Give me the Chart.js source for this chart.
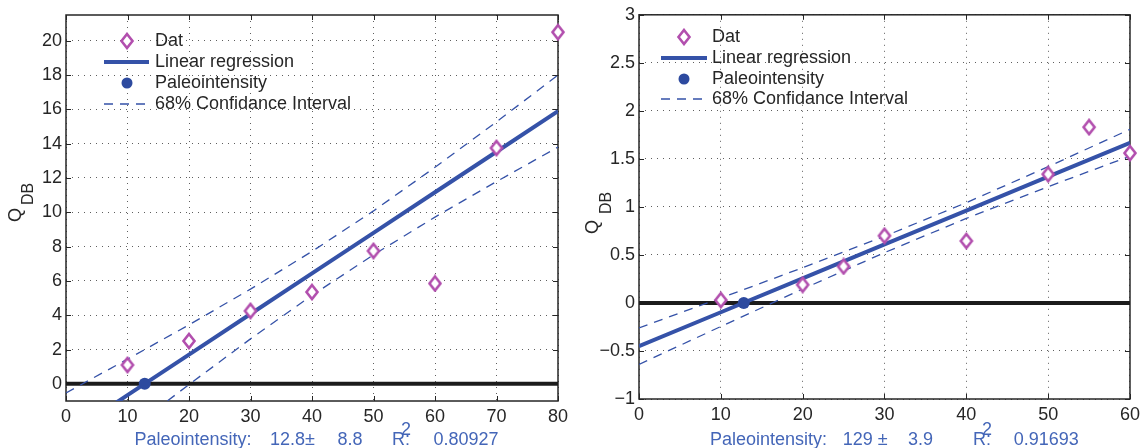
<!DOCTYPE html>
<html>
<head>
<meta charset="utf-8">
<script src="https://cdn.jsdelivr.net/npm/chart.js@4"></script>
<style>
  html, body { margin: 0; padding: 0; background: #fff; }
  #wrap { position: relative; width: 1145px; height: 448px; }
  canvas { position: absolute; top: 0; }
</style>
</head>
<body>
<div id="wrap">
  <canvas id="leftChart" width="575" height="448" style="left:0"></canvas>
  <canvas id="rightChart" width="570" height="448" style="left:575px"></canvas>
</div>
<script>
// ---- left panel data ----
const leftX = [10, 20, 30, 40, 50, 60, 70, 80];
const leftQ = [1.1, 2.5, 4.25, 5.35, 7.75, 5.85, 13.75, 20.5];
const leftFitX = [0, 10, 20, 30, 40, 50, 60, 70, 80];
const leftFit = [-3.03, -0.66, 1.70, 4.07, 6.44, 8.80, 11.17, 13.53, 15.90];
const leftUpper = [-0.53, 1.44, 3.44, 5.52, 7.72, 10.08, 12.62, 15.27, 18.0];
const leftLower = [-5.53, -2.76, -0.04, 2.62, 5.16, 7.52, 9.72, 11.79, 13.8];
const leftPaleo = [12.8, 0];
const leftXTicks = [0, 10, 20, 30, 40, 50, 60, 70, 80];
const leftYTicks = [0, 2, 4, 6, 8, 10, 12, 14, 16, 18, 20];

// ---- right panel data ----
const rightX = [10, 20, 25, 30, 40, 50, 55, 60];
const rightQ = [0.03, 0.19, 0.38, 0.70, 0.645, 1.34, 1.83, 1.56];
const rightFitX = [0, 10, 20, 30, 40, 50, 60];
const rightFit = [-0.45, -0.097, 0.256, 0.609, 0.962, 1.315, 1.668];
const rightUpper = [-0.26, 0.051, 0.367, 0.694, 1.044, 1.419, 1.808];
const rightLower = [-0.64, -0.245, 0.145, 0.524, 0.880, 1.211, 1.528];
const rightPaleo = [12.8, 0];
const rightXTicks = [0, 10, 20, 30, 40, 50, 60];
const rightYTicks = [-1, -0.5, 0, 0.5, 1, 1.5, 2, 2.5, 3];

const legendLabels = ["Dat", "Linear regression", "Paleointensity", "68% Confidance Interval"];

const FONT = "'Liberation Sans', Arial, Helvetica, sans-serif";
const TXT = "#262626";
const MAGENTA = "#b24fae";
const BLUE = "#3552a8";
const DOT = "#2d4a9f";
const NOTE = "#4466b8";

function pts(xs, ys) {
  return xs.map((x, i) => ({ x: x, y: ys[i] }));
}

// diamond marker (a bit taller than wide, like the matlab one)
const diamond = document.createElement("canvas");
diamond.width = 16; diamond.height = 18;
(function () {
  const c = diamond.getContext("2d");
  c.strokeStyle = MAGENTA;
  c.fillStyle = "#fff";
  c.lineWidth = 2.6;
  c.beginPath();
  c.moveTo(8, 2); c.lineTo(13.5, 9); c.lineTo(8, 16); c.lineTo(2.5, 9);
  c.closePath(); c.fill(); c.stroke();
})();

// axes box, inward ticks, legend, Q_DB label and the note under the x axis
function decoPlugin(cfg) {
  return {
    id: "deco_" + cfg.name,
    beforeDatasetsDraw(chart) {
      const ctx = chart.ctx;
      const a = chart.chartArea;
      const sx = chart.scales.x, sy = chart.scales.y;
      ctx.save();
      ctx.strokeStyle = TXT;
      ctx.lineWidth = 1;
      ctx.beginPath();
      sx.ticks.forEach(t => {
        const px = Math.round(sx.getPixelForValue(t.value)) + 0.5;
        ctx.moveTo(px, a.bottom); ctx.lineTo(px, a.bottom - 5);
        ctx.moveTo(px, a.top); ctx.lineTo(px, a.top + 5);
      });
      sy.ticks.forEach(t => {
        const py = Math.round(sy.getPixelForValue(t.value)) + 0.5;
        ctx.moveTo(a.left, py); ctx.lineTo(a.left + 5, py);
        ctx.moveTo(a.right, py); ctx.lineTo(a.right - 5, py);
      });
      ctx.stroke();
      ctx.lineWidth = 1.5;
      ctx.strokeRect(a.left, a.top, a.right - a.left, a.bottom - a.top);
      ctx.restore();
    },
    afterDraw(chart) {
      const ctx = chart.ctx;
      const L = cfg.legend;
      ctx.save();
      ctx.font = "18px " + FONT;
      ctx.fillStyle = TXT;
      ctx.textBaseline = "middle";
      legendLabels.forEach((lab, i) => ctx.fillText(lab, L.textX, L.rows[i]));

      const mx = L.markerX;
      ctx.drawImage(diamond, mx - 8, L.rows[0] - 9);
      // regression line
      ctx.strokeStyle = BLUE;
      ctx.lineWidth = 4;
      ctx.beginPath(); ctx.moveTo(L.x1, L.rows[1]); ctx.lineTo(L.x2, L.rows[1]); ctx.stroke();
      // paleointensity dot
      ctx.fillStyle = DOT;
      ctx.beginPath(); ctx.arc(mx, L.rows[2], 5.5, 0, Math.PI * 2); ctx.fill();
      // dashed
      ctx.strokeStyle = BLUE;
      ctx.lineWidth = 1.3;
      ctx.setLineDash([9, 7]);
      ctx.beginPath(); ctx.moveTo(L.x1, L.rows[3]); ctx.lineTo(L.x2, L.rows[3]); ctx.stroke();
      ctx.setLineDash([]);

      // y title Q_DB
      ctx.fillStyle = TXT;
      ctx.textBaseline = "alphabetic";
      ctx.translate(cfg.qx, cfg.qBottom);
      ctx.rotate(-Math.PI / 2);
      ctx.font = "18px " + FONT;
      ctx.fillText("Q", 0, 6.4);
      const wq = ctx.measureText("Q").width;
      ctx.font = "16px " + FONT;
      ctx.fillText("DB", wq + cfg.qGap, 6.4 + cfg.qSub);
      ctx.setTransform(1, 0, 0, 1, 0, 0);

      // note under the axis
      ctx.fillStyle = NOTE;
      cfg.note.forEach(seg => {
        ctx.font = "18px " + FONT;
        ctx.fillText(seg.t, seg.x, seg.sup ? 435 : 445);
      });
      ctx.restore();
    }
  };
}

function makeChart(id, cfg) {
  const minus = v => String(v).replace("-", "\u2212");
  new Chart(document.getElementById(id).getContext("2d"), {
    type: "scatter",
    data: {
      datasets: [
        { data: pts(cfg.x, cfg.q), pointStyle: diamond, pointRadius: 8,
          showLine: false, clip: false, order: 0 },
        { data: [{ x: cfg.paleo[0], y: cfg.paleo[1] }], pointRadius: 6, pointBorderWidth: 0,
          pointBackgroundColor: DOT, showLine: false, order: 1 },
        { data: pts(cfg.fitX, cfg.fit), showLine: true, borderColor: BLUE, borderWidth: 4,
          pointRadius: 0, order: 2 },
        { data: pts(cfg.fitX, cfg.upper), showLine: true, borderColor: BLUE, borderWidth: 1.3,
          borderDash: [9, 7], pointRadius: 0, order: 3 },
        { data: pts(cfg.fitX, cfg.lower), showLine: true, borderColor: BLUE, borderWidth: 1.3,
          borderDash: [9, 7], pointRadius: 0, order: 4 },
        { data: [{ x: cfg.xTicks[0], y: 0 }, { x: cfg.xTicks[cfg.xTicks.length - 1], y: 0 }],
          showLine: true, borderColor: "#1c1c1c", borderWidth: 4, pointRadius: 0, order: 5 }
      ]
    },
    options: {
      responsive: false,
      animation: false,
      layout: { padding: cfg.padding },
      plugins: { legend: { display: false }, tooltip: { enabled: false } },
      scales: {
        x: {
          type: "linear",
          min: cfg.xTicks[0],
          max: cfg.xTicks[cfg.xTicks.length - 1],
          afterBuildTicks: s => { s.ticks = cfg.xTicks.map(v => ({ value: v })); },
          afterFit: s => { s.height = cfg.xHeight; },
          ticks: { color: TXT, font: { size: 18, family: FONT }, padding: 5, maxRotation: 0,
                   callback: v => minus(v) },
          grid: { color: "rgba(40,40,40,0.75)", lineWidth: 1, drawTicks: false },
          border: { display: false, dash: [1, 5] }
        },
        y: {
          type: "linear",
          min: cfg.yMin,
          max: cfg.yMax,
          afterBuildTicks: s => { s.ticks = cfg.yTicks.map(v => ({ value: v })); },
          afterFit: s => { s.width = cfg.yWidth; },
          ticks: { color: TXT, font: { size: 18, family: FONT }, padding: 4,
                   callback: v => minus(v) },
          grid: { color: "rgba(40,40,40,0.75)", lineWidth: 1, drawTicks: false },
          border: { display: false, dash: [1, 5] }
        }
      }
    },
    plugins: [decoPlugin(cfg)]
  });
}

makeChart("leftChart", {
  name: "left",
  x: leftX, q: leftQ, fitX: leftFitX, fit: leftFit, upper: leftUpper, lower: leftLower,
  paleo: leftPaleo, xTicks: leftXTicks, yTicks: leftYTicks,
  yMin: -1, yMax: 21.5,
  padding: { left: 0, right: 17, top: 15, bottom: 0 },
  yWidth: 66, xHeight: 47,
  qx: 15, qBottom: 222, qGap: 3, qSub: 12,
  legend: { markerX: 127, x1: 104, x2: 149, textX: 155, rows: [41, 62, 83, 104] },
  note: [
    { t: "Paleointensity:", x: 134.5 },
    { t: "12.8\u00b1", x: 270 },
    { t: "8.8", x: 337.5 },
    { t: "R", x: 392 },
    { t: "2", x: 401, sup: true },
    { t: ":", x: 405 },
    { t: "0.80927", x: 433.5 }
  ]
});

makeChart("rightChart", {
  name: "right",
  x: rightX, q: rightQ, fitX: rightFitX, fit: rightFit, upper: rightUpper, lower: rightLower,
  paleo: rightPaleo, xTicks: rightXTicks, yTicks: rightYTicks,
  yMin: -1, yMax: 3,
  padding: { left: 0, right: 13, top: 13, bottom: 0 },
  yWidth: 64, xHeight: 49,
  qx: 17, qBottom: 234, qGap: 6, qSub: 13,
  legend: { markerX: 109, x1: 86, x2: 132, textX: 137, rows: [37, 58, 79, 99] },
  note: [
    { t: "Paleointensity:", x: 135 },
    { t: "129 \u00b1", x: 267.7 },
    { t: "3.9", x: 333 },
    { t: "R", x: 398 },
    { t: "2", x: 407, sup: true },
    { t: ":", x: 411 },
    { t: "0.91693", x: 438.7 }
  ]
});
</script>
</body>
</html>
